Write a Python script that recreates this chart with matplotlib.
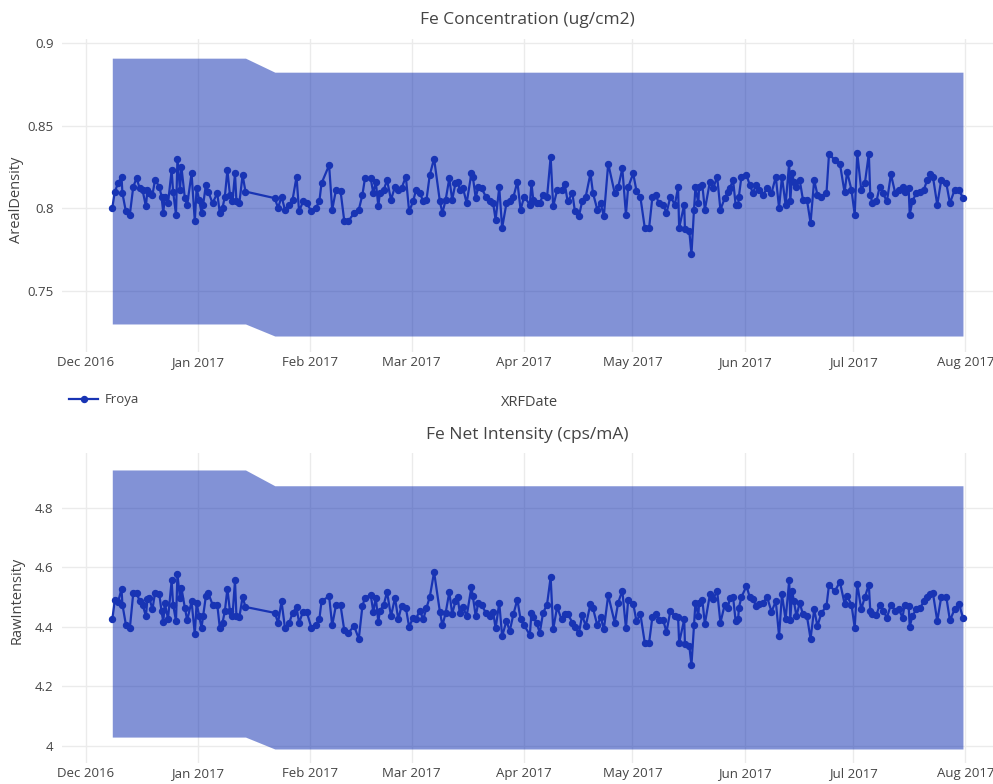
import matplotlib
matplotlib.use("Agg")
import matplotlib.pyplot as plt
import matplotlib.dates as mdates
from matplotlib.lines import Line2D
import numpy as np
import pandas as pd

# measurement times, days after 2016-12-01
xrf_day = [
    7.3, 8.0, 8.9, 9.85, 10.1, 11.05, 12.15, 13.1, 14.0, 14.9,
    15.65, 16.6, 17.0, 17.5, 18.4, 19.1, 20.3, 20.9, 21.4, 21.8,
    22.7, 23.7, 24.1, 24.9, 25.3, 26.0, 26.4, 27.35, 28.0, 29.2,
    30.1, 30.6, 31.3, 31.95, 32.4, 33.15, 33.8, 35.0, 36.3, 37.0,
    37.75, 38.4, 39.1, 39.8, 40.5, 41.2, 41.6, 42.4, 43.3, 44.1,
    52.2, 53.1, 54.05, 55.0, 56.2, 57.1, 58.2, 58.9, 60.0, 61.0,
    62.3, 63.5, 64.5, 65.1, 67.2, 68.05, 69.1, 70.35, 71.4, 72.5,
    74.1, 75.4, 76.4, 77.1, 78.7, 79.4, 80.1, 80.8, 81.2, 82.3,
    83.2, 84.3, 85.4, 86.3, 87.2, 88.4, 89.3, 90.4, 91.2, 92.3,
    93.2, 94.1, 95.0, 96.2, 97.8, 98.5, 99.4, 100.4, 101.2, 102.1,
    102.7, 103.3, 104.2, 105.2, 106.5, 106.9, 107.7, 108.4, 109.3, 110.5,
    111.6, 112.5, 113.2, 114.2, 115.0, 116.2, 117.1, 118.1, 119.2, 120.1,
    121.1, 122.65, 123.1, 123.6, 124.5, 125.4, 126.3, 127.4, 128.4, 129.1,
    130.2, 131.4, 132.3, 133.1, 134.4, 135.1, 136.2, 137.1, 138.1, 139.4,
    140.1, 141.3, 142.2, 143.1, 144.3, 146.1, 147.05, 148.2, 149.2, 149.8,
    151.2, 152.1, 153.2, 154.4, 155.6, 156.5, 157.4, 158.3, 159.5, 160.4,
    161.5, 162.7, 163.6, 163.9, 165.3, 165.5, 166.7, 167.3, 168.0, 168.4,
    169.2, 169.4, 170.3, 171.0, 172.4, 173.3, 174.4, 175.3, 176.5, 177.4,
    177.9, 178.8, 179.5, 180.2, 180.4, 181.1, 182.5, 183.4, 184.3, 185.1,
    186.0, 187.1, 188.2, 189.4, 190.6, 191.5, 192.3, 193.3, 194.3, 194.6,
    195.1, 195.6, 196.3, 197.2, 198.1, 199.2, 200.2, 201.2, 202.1, 203.2,
    204.6, 205.3, 206.9, 208.3, 209.6, 210.3, 211.5, 212.4, 213.1, 214.2,
    215.2, 216.3, 216.7, 217.3, 218.4, 219.3, 220.2, 221.3, 222.4, 223.6,
    224.6, 225.6, 226.2, 227.3, 227.6, 228.3, 229.4, 230.5, 231.5, 232.4,
    233.3, 234.0, 235.2, 236.3, 237.7, 238.7, 240.0, 241.2, 242.3,
]

areal_density = [
    0.800, 0.810, 0.815, 0.819, 0.809, 0.798, 0.796, 0.813, 0.818, 0.812,
    0.811, 0.801, 0.811, 0.809, 0.808, 0.817, 0.813, 0.807, 0.797, 0.807,
    0.803, 0.823, 0.810, 0.796, 0.830, 0.811, 0.825, 0.806, 0.802, 0.821,
    0.792, 0.812, 0.805, 0.797, 0.802, 0.814, 0.810, 0.803, 0.809, 0.797,
    0.800, 0.807, 0.823, 0.808, 0.804, 0.821, 0.804, 0.803, 0.820, 0.810,
    0.806, 0.800, 0.807, 0.799, 0.802, 0.805, 0.819, 0.798, 0.804, 0.803,
    0.798, 0.800, 0.804, 0.815, 0.826, 0.799, 0.811, 0.8105, 0.792, 0.792,
    0.797, 0.799, 0.808, 0.818, 0.818, 0.809, 0.816, 0.801, 0.809, 0.811,
    0.817, 0.805, 0.813, 0.811, 0.812, 0.819, 0.798, 0.804, 0.811, 0.809,
    0.804, 0.805, 0.820, 0.830, 0.804, 0.797, 0.805, 0.818, 0.805, 0.815,
    0.816, 0.811, 0.812, 0.803, 0.821, 0.819, 0.806, 0.813, 0.812, 0.807,
    0.804, 0.803, 0.793, 0.8125, 0.788, 0.803, 0.804, 0.8065, 0.816, 0.799,
    0.807, 0.802, 0.815, 0.805, 0.803, 0.803, 0.808, 0.8065, 0.831, 0.801,
    0.811, 0.811, 0.8145, 0.804, 0.809, 0.798, 0.795, 0.804, 0.807, 0.821,
    0.809, 0.799, 0.803, 0.795, 0.827, 0.809, 0.8125, 0.824, 0.796, 0.8125,
    0.821, 0.8105, 0.8065, 0.788, 0.788, 0.8065, 0.808, 0.803, 0.802, 0.797,
    0.807, 0.802, 0.8125, 0.788, 0.802, 0.787, 0.786, 0.772, 0.799, 0.8125,
    0.803, 0.8125, 0.814, 0.799, 0.816, 0.812, 0.819, 0.799, 0.806, 0.810,
    0.812, 0.817, 0.802, 0.802, 0.807, 0.819, 0.820, 0.814, 0.809, 0.814,
    0.811, 0.808, 0.812, 0.809, 0.819, 0.800, 0.819, 0.802, 0.8275, 0.804,
    0.821, 0.816, 0.813, 0.817, 0.805, 0.805, 0.791, 0.817, 0.808, 0.807,
    0.809, 0.833, 0.829, 0.827, 0.8095, 0.822, 0.811, 0.796, 0.8335, 0.811,
    0.815, 0.833, 0.808, 0.803, 0.804, 0.813, 0.809, 0.804, 0.8205, 0.809,
    0.811, 0.813, 0.810, 0.812, 0.796, 0.804, 0.809, 0.810, 0.811, 0.817,
    0.8205, 0.819, 0.802, 0.817, 0.815, 0.803, 0.811, 0.811, 0.806,
]

raw_intensity = [
    4.425, 4.489, 4.483, 4.528, 4.475, 4.408, 4.395, 4.514, 4.514, 4.486,
    4.475, 4.436, 4.494, 4.498, 4.459, 4.514, 4.509, 4.453, 4.416, 4.481,
    4.427, 4.556, 4.475, 4.420, 4.576, 4.498, 4.531, 4.464, 4.422, 4.486,
    4.375, 4.481, 4.436, 4.397, 4.436, 4.503, 4.514, 4.475, 4.475, 4.397,
    4.414, 4.453, 4.528, 4.453, 4.436, 4.556, 4.436, 4.433, 4.500, 4.467,
    4.447, 4.414, 4.486, 4.397, 4.414, 4.447, 4.466, 4.414, 4.451, 4.451,
    4.397, 4.408, 4.425, 4.486, 4.503, 4.405, 4.473, 4.473, 4.388, 4.380,
    4.403, 4.360, 4.470, 4.498, 4.507, 4.451, 4.498, 4.416, 4.453, 4.475,
    4.517, 4.436, 4.498, 4.425, 4.470, 4.464, 4.400, 4.431, 4.428, 4.455,
    4.425, 4.464, 4.500, 4.584, 4.451, 4.405, 4.447, 4.517, 4.444, 4.486,
    4.500, 4.447, 4.466, 4.436, 4.533, 4.503, 4.436, 4.481, 4.475, 4.447,
    4.436, 4.451, 4.395, 4.481, 4.369, 4.420, 4.386, 4.442, 4.492, 4.425,
    4.405, 4.373, 4.447, 4.433, 4.414, 4.380, 4.447, 4.475, 4.567, 4.392,
    4.467, 4.425, 4.442, 4.445, 4.414, 4.400, 4.378, 4.439, 4.403, 4.478,
    4.462, 4.405, 4.433, 4.392, 4.507, 4.414, 4.481, 4.522, 4.395, 4.489,
    4.478, 4.420, 4.442, 4.347, 4.347, 4.433, 4.444, 4.422, 4.422, 4.383,
    4.455, 4.436, 4.433, 4.347, 4.425, 4.344, 4.336, 4.272, 4.408, 4.481,
    4.436, 4.481, 4.490, 4.410, 4.509, 4.495, 4.520, 4.414, 4.475, 4.464,
    4.498, 4.500, 4.420, 4.425, 4.464, 4.500, 4.537, 4.500, 4.495, 4.470,
    4.478, 4.481, 4.500, 4.451, 4.486, 4.369, 4.509, 4.425, 4.556, 4.422,
    4.522, 4.486, 4.436, 4.481, 4.442, 4.436, 4.360, 4.459, 4.403, 4.447,
    4.470, 4.542, 4.520, 4.551, 4.478, 4.503, 4.475, 4.397, 4.545, 4.459,
    4.500, 4.542, 4.453, 4.444, 4.440, 4.475, 4.455, 4.431, 4.475, 4.455,
    4.459, 4.431, 4.475, 4.470, 4.400, 4.436, 4.459, 4.464, 4.486, 4.500,
    4.511, 4.514, 4.420, 4.500, 4.500, 4.422, 4.459, 4.478, 4.431,
]

# control limits before / after the recalibration in January
limit_change_day = 48
areal_ucl = [0.8909, 0.8824]
areal_lcl = [0.7297, 0.7224]
raw_ucl = [4.927, 4.874]
raw_lcl = [4.030, 3.990]

day = np.array(xrf_day)
dates = pd.Timestamp("2016-12-01") + pd.to_timedelta(day, unit="D")
early = day < limit_change_day

plt.rcParams["font.family"] = ["Open Sans", "DejaVu Sans"]
text_col = "#444444"
band_col = (7 / 255, 39 / 255, 175 / 255)
line_col = "#1834b4"

fig = plt.figure(figsize=(9.93, 7.84), dpi=100)
ax1 = fig.add_axes([0.0624, 0.551, 0.9376, 0.399])
ax2 = fig.add_axes([0.0624, 0.0268, 0.9376, 0.3954])

panels = [
    (ax1, areal_density, areal_ucl, areal_lcl, (0.7127, 0.9024),
     [0.75, 0.8, 0.85, 0.9], ["0.75", "0.8", "0.85", "0.9"]),
    (ax2, raw_intensity, raw_ucl, raw_lcl, (3.943, 4.984),
     [4, 4.2, 4.4, 4.6, 4.8], ["4", "4.2", "4.4", "4.6", "4.8"]),
]

for ax, vals, ucl, lcl, ylim, yt, ytl in panels:
    upper = np.where(early, ucl[0], ucl[1])
    lower = np.where(early, lcl[0], lcl[1])
    ax.fill_between(dates, lower, upper, color=band_col, alpha=0.5,
                    linewidth=0, zorder=2)
    ax.plot(dates, vals, color=line_col, lw=1.6, marker="o", ms=4.3,
            zorder=3)
    ax.set_xlim(pd.Timestamp("2016-12-01") - pd.Timedelta(days=6.6),
                pd.Timestamp("2016-12-01") + pd.Timedelta(days=250.6))
    ax.set_ylim(*ylim)
    ax.set_yticks(yt)
    ax.set_yticklabels(ytl)
    ax.xaxis.set_major_locator(mdates.MonthLocator())
    ax.xaxis.set_major_formatter(mdates.DateFormatter("%b %Y"))
    ax.grid(True, color="#ebebeb", lw=1, zorder=0)
    ax.set_axisbelow(True)
    for s in ax.spines.values():
        s.set_visible(False)
    ax.tick_params(axis="y", length=0, labelsize=9.5, labelcolor=text_col,
                   pad=6)
    ax.tick_params(axis="x", length=0, labelsize=9.5, labelcolor=text_col,
                   pad=3)

fig.text(527 / 993, 1 - 20 / 784, "Fe Concentration (ug/cm2)", ha="center",
         va="center", fontsize=12.5, color=text_col)
fig.text(527 / 993, 1 - 435 / 784, "Fe Net Intensity (cps/mA)", ha="center",
         va="center", fontsize=12.5, color=text_col)
fig.text(17 / 993, 1 - 200 / 784, "ArealDensity", rotation=90, ha="center",
         va="center", fontsize=10.5, color=text_col)
fig.text(17 / 993, 1 - 600 / 784, "RawIntensity", rotation=90, ha="center",
         va="center", fontsize=10.5, color=text_col)
fig.text(530 / 993, 1 - 403 / 784, "XRFDate", ha="center", va="center",
         fontsize=10.5, color=text_col)

handle = Line2D([], [], color=line_col, lw=1.6, marker="o", ms=4.3)
leg = fig.legend([handle], ["Froya"], loc="center left",
                 bbox_to_anchor=(0.058, 1 - 400 / 784), frameon=False,
                 fontsize=9.5, handlelength=2.2, handletextpad=0.5)
for t in leg.get_texts():
    t.set_color(text_col)

fig.savefig("out.png", dpi=100)
plt.close(fig)
